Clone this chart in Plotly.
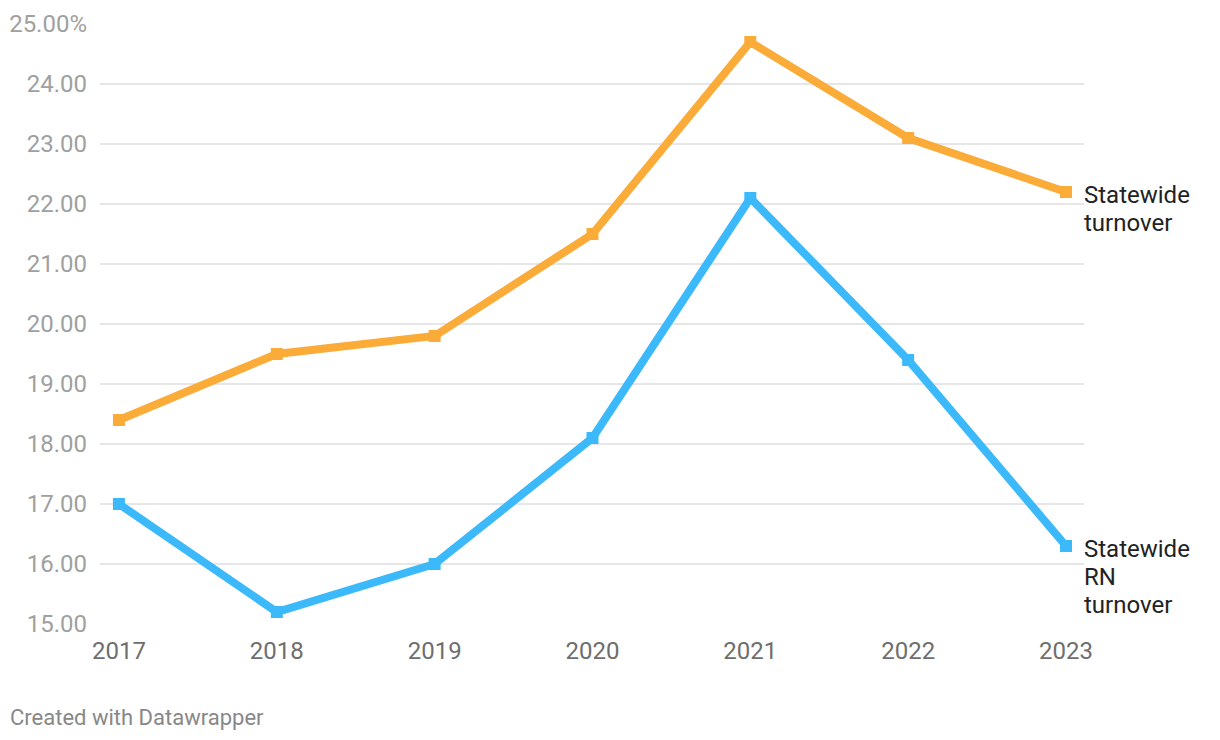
import plotly.graph_objects as go

years = [2017, 2018, 2019, 2020, 2021, 2022, 2023]
statewide_turnover = [18.4, 19.5, 19.8, 21.5, 24.7, 23.1, 22.2]
statewide_rn_turnover = [17.0, 15.2, 16.0, 18.1, 22.1, 19.4, 16.3]
y_tickvals = [15, 16, 17, 18, 19, 20, 21, 22, 23, 24, 25]
y_ticktext = ["15.00", "16.00", "17.00", "18.00", "19.00", "20.00", "21.00",
              "22.00", "23.00", "24.00", "25.00%"]
labels = ["Statewide<br>turnover", "Statewide<br>RN<br>turnover"]
colors = ["#fbab38", "#3cb9fb"]

ML, MR, MT, MB = 92, 144, 16, 124
PW = 1220 - ML - MR
PH = 740 - MT - MB

fig = go.Figure()
for vals, col in [(statewide_turnover, colors[0]), (statewide_rn_turnover, colors[1])]:
    fig.add_trace(go.Scatter(
        x=years, y=vals, mode="lines+markers",
        line=dict(color=col, width=8),
        marker=dict(symbol="square", size=12, color=col),
        showlegend=False, hoverinfo="skip", cliponaxis=False,
    ))

for vals, lab in [(statewide_turnover, labels[0]), (statewide_rn_turnover, labels[1])]:
    for i, line in enumerate(lab.split("<br>")):
        fig.add_annotation(
            x=1, xref="paper", y=vals[-1], yref="y",
            text=line, showarrow=False, xanchor="left", yanchor="middle",
            align="left", yshift=-(3 + 28 * i), xshift=-2,
            font=dict(family="Roboto", size=24, color="#222222"),
        )

fig.add_annotation(
    x=-92 / PW, xref="paper", y=(PH - 709 + MT) / PH, yref="paper",
    text="Created with Datawrapper",
    showarrow=False, xanchor="left", yanchor="middle",
    font=dict(family="Roboto", size=22, color="#888888"),
)

fig.update_layout(
    width=1220, height=740,
    margin=dict(l=ML, r=MR, t=MT, b=MB, autoexpand=False),
    paper_bgcolor="white", plot_bgcolor="white",
    font=dict(family="Roboto"),
    xaxis=dict(
        range=[2016.88, 2023.114], tickvals=years, automargin=False,
        showgrid=False, zeroline=False, showline=False,
        ticks="", ticklabelstandoff=10,
        tickfont=dict(family="Roboto", size=24, color="#6e6e6e"),
    ),
    yaxis=dict(
        range=[15, 25], tickvals=y_tickvals, ticktext=y_ticktext, automargin=False,
        showgrid=True, gridcolor="#e6e6e6", gridwidth=1.5,
        zeroline=False, showline=False, ticks="", ticklabelstandoff=12,
        tickfont=dict(family="Roboto", size=24, color="#a0a0a0"),
    ),
)

fig.write_html("out.html")
